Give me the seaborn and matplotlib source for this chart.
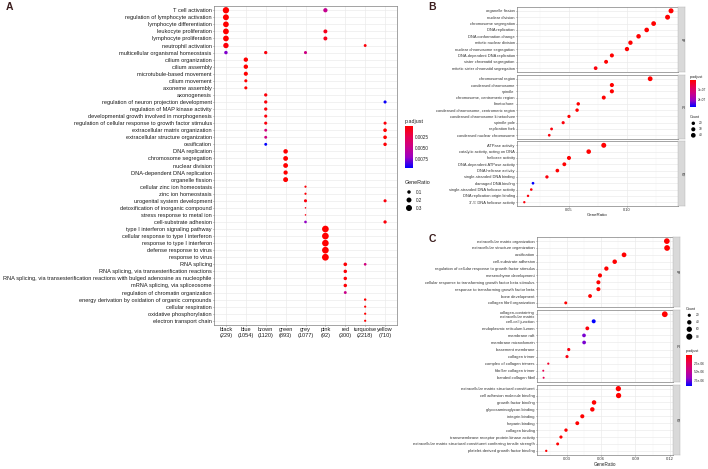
import numpy as np
import pandas as pd
import matplotlib
matplotlib.use("Agg")
import matplotlib as mpl
import matplotlib.pyplot as plt
import seaborn as sns
from matplotlib.colors import LinearSegmentedColormap, Normalize

# ======================= DATA =======================
# ---- Panel A (compareCluster dot plot) ----
a_clusters = ['black', 'blue', 'brown', 'green', 'grey', 'pink', 'red', 'turquoise', 'yellow']
a_cluster_sizes = [229, 1054, 1120, 893, 1077, 92, 300, 2218, 710]
a_terms = [
    'T cell activation',
    'regulation of lymphocyte activation',
    'lymphocyte differentiation',
    'leukocyte proliferation',
    'lymphocyte proliferation',
    'neutrophil activation',
    'multicellular organismal homeostasis',
    'cilium organization',
    'cilium assembly',
    'microtubule-based movement',
    'cilium movement',
    'axoneme assembly',
    'axonogenesis',
    'regulation of neuron projection development',
    'regulation of MAP kinase activity',
    'developmental growth involved in morphogenesis',
    'regulation of cellular response to growth factor stimulus',
    'extracellular matrix organization',
    'extracellular structure organization',
    'ossification',
    'DNA replication',
    'chromosome segregation',
    'nuclear division',
    'DNA-dependent DNA replication',
    'organelle fission',
    'cellular zinc ion homeostasis',
    'zinc ion homeostasis',
    'urogenital system development',
    'detoxification of inorganic compound',
    'stress response to metal ion',
    'cell-substrate adhesion',
    'type I interferon signaling pathway',
    'cellular response to type I interferon',
    'response to type I interferon',
    'defense response to virus',
    'response to virus',
    'RNA splicing',
    'RNA splicing, via transesterification reactions',
    'RNA splicing, via transesterification reactions with bulged adenosine as nucleophile',
    'mRNA splicing, via spliceosome',
    'regulation of chromatin organization',
    'energy derivation by oxidation of organic compounds',
    'cellular respiration',
    'oxidative phosphorylation',
    'electron transport chain',
]

a_cluster = (['black'] * 7 + ['blue'] * 5 + ['brown'] * 9 + ['green'] * 5 + ['grey'] * 7
             + ['pink'] * 8 + ['red'] * 5 + ['turquoise'] * 6 + ['yellow'] * 7)
a_term = [
    # black
    'T cell activation', 'regulation of lymphocyte activation', 'lymphocyte differentiation',
    'leukocyte proliferation', 'lymphocyte proliferation', 'neutrophil activation',
    'multicellular organismal homeostasis',
    # blue
    'cilium organization', 'cilium assembly', 'microtubule-based movement', 'cilium movement',
    'axoneme assembly',
    # brown
    'multicellular organismal homeostasis', 'axonogenesis', 'regulation of neuron projection development',
    'regulation of MAP kinase activity', 'developmental growth involved in morphogenesis',
    'regulation of cellular response to growth factor stimulus', 'extracellular matrix organization',
    'extracellular structure organization', 'ossification',
    # green
    'DNA replication', 'chromosome segregation', 'nuclear division', 'DNA-dependent DNA replication',
    'organelle fission',
    # grey
    'multicellular organismal homeostasis', 'cellular zinc ion homeostasis', 'zinc ion homeostasis',
    'urogenital system development', 'detoxification of inorganic compound',
    'stress response to metal ion', 'cell-substrate adhesion',
    # pink
    'T cell activation', 'leukocyte proliferation', 'lymphocyte proliferation',
    'type I interferon signaling pathway', 'cellular response to type I interferon',
    'response to type I interferon', 'defense response to virus', 'response to virus',
    # red
    'RNA splicing', 'RNA splicing, via transesterification reactions',
    'RNA splicing, via transesterification reactions with bulged adenosine as nucleophile',
    'mRNA splicing, via spliceosome', 'regulation of chromatin organization',
    # turquoise
    'neutrophil activation', 'RNA splicing', 'energy derivation by oxidation of organic compounds',
    'cellular respiration', 'oxidative phosphorylation', 'electron transport chain',
    # yellow
    'regulation of neuron projection development',
    'regulation of cellular response to growth factor stimulus', 'extracellular matrix organization',
    'extracellular structure organization', 'ossification', 'urogenital system development',
    'cell-substrate adhesion',
]
a_ratio = [
    0.33, 0.29, 0.27, 0.28, 0.27, 0.24, 0.10,
    0.16, 0.16, 0.14, 0.08, 0.08,
    0.09, 0.09, 0.09, 0.09, 0.08, 0.08, 0.07, 0.07, 0.07,
    0.17, 0.19, 0.19, 0.15, 0.20,
    0.08, 0.04, 0.04, 0.08, 0.02, 0.02, 0.06,
    0.15, 0.13, 0.13, 0.37, 0.37, 0.36, 0.37, 0.38,
    0.11, 0.10, 0.10, 0.10, 0.07,
    0.07, 0.06, 0.05, 0.04, 0.04, 0.04,
    0.08, 0.08, 0.11, 0.11, 0.10, 0.08, 0.09,
]
a_padj = [
    2e-5, 2e-5, 3e-5, 2e-5, 2e-5, 3e-4, 0.0075,
    1e-6, 1e-6, 2e-6, 3e-5, 4e-5,
    4e-4, 3e-4, 3e-4, 3e-4, 4e-4, 4e-4, 0.0042, 0.0044, 0.0095,
    1e-8, 1e-8, 1e-8, 1e-8, 1e-8,
    0.0045, 2e-4, 2e-4, 4e-4, 5e-4, 5e-4, 0.0072,
    0.0050, 8e-4, 8e-4, 1e-9, 1e-9, 1e-9, 1e-9, 1e-9,
    2e-4, 2e-4, 2e-4, 2e-4, 0.0048,
    3e-4, 0.0043, 5e-6, 5e-6, 5e-6, 5e-6,
    0.0093, 3e-4, 1e-5, 1e-5, 2e-4, 4e-4, 3e-4,
]

# ---- Panel B (GO enrichment, three ontologies) ----
b_bp_terms = ['organelle fission', 'nuclear division', 'chromosome segregation', 'DNA replication',
              'DNA conformation change', 'mitotic nuclear division', 'nuclear chromosome segregation',
              'DNA-dependent DNA replication', 'sister chromatid segregation',
              'mitotic sister chromatid segregation']
b_bp_ratio = [0.138, 0.135, 0.123, 0.117, 0.110, 0.103, 0.100, 0.087, 0.082, 0.073]
b_bp_count = [46, 45, 41, 39, 37, 34, 33, 29, 27, 24]
b_bp_padj = [1e-12, 1e-12, 1e-11, 1e-11, 1e-10, 1e-10, 1e-10, 1e-9, 1e-9, 1e-8]

b_cc_terms = ['chromosomal region', 'condensed chromosome', 'spindle', 'chromosome, centromeric region',
              'kinetochore', 'condensed chromosome, centromeric region', 'condensed chromosome kinetochore',
              'spindle pole', 'replication fork', 'condensed nuclear chromosome']
b_cc_ratio = [0.120, 0.087, 0.087, 0.080, 0.058, 0.057, 0.050, 0.045, 0.035, 0.033]
b_cc_count = [42, 30, 30, 28, 20, 20, 17, 16, 12, 11]
b_cc_padj = [1e-12, 1e-10, 1e-10, 1e-10, 1e-9, 1e-9, 1e-9, 1e-8, 1e-8, 1e-8]

b_mf_terms = ['ATPase activity', 'catalytic activity, acting on DNA', 'helicase activity',
              'DNA-dependent ATPase activity', 'DNA helicase activity', 'single-stranded DNA binding',
              'damaged DNA binding', 'single-stranded DNA helicase activity',
              'DNA replication origin binding', "3'-5' DNA helicase activity"]
b_mf_ratio = [0.080, 0.067, 0.050, 0.046, 0.040, 0.031, 0.019, 0.0175, 0.0147, 0.0115]
b_mf_count = [46, 38, 29, 26, 23, 18, 11, 10, 8, 7]
b_mf_padj = [1e-10, 1e-10, 1e-9, 1e-9, 1e-9, 1e-8, 2.8e-7, 1e-8, 1e-8, 1e-8]

# ---- Panel C (GO enrichment, three ontologies) ----
c_bp_terms = ['extracellular matrix organization', 'extracellular structure organization', 'ossification',
              'cell-substrate adhesion', 'regulation of cellular response to growth factor stimulus',
              'mesenchyme development', 'cellular response to transforming growth factor beta stimulus',
              'response to transforming growth factor beta', 'bone development',
              'collagen fibril organization']
c_bp_ratio = [0.1175, 0.1177, 0.080, 0.0718, 0.0645, 0.0589, 0.0575, 0.0575, 0.0502, 0.0289]
c_bp_count = [70, 71, 48, 43, 39, 35, 34, 34, 30, 17]
c_bp_padj = [1e-20, 1e-20, 1e-12, 1e-11, 1e-10, 1e-10, 1e-10, 1e-10, 1e-9, 1e-8]

c_cc_terms = ['collagen-containing\nextracellular matrix', 'cell-cell junction', 'endoplasmic reticulum lumen',
              'membrane raft', 'membrane microdomain', 'basement membrane', 'collagen trimer',
              'complex of collagen trimers', 'fibrillar collagen trimer', 'banded collagen fibril']
c_cc_ratio = [0.1157, 0.0534, 0.0478, 0.0449, 0.0450, 0.0315, 0.0300, 0.0136, 0.0092, 0.0095]
c_cc_count = [72, 33, 30, 28, 28, 20, 19, 8, 6, 6]
c_cc_padj = [1e-20, 9.2e-6, 3e-7, 7.4e-6, 7.4e-6, 5e-7, 5e-7, 1.2e-6, 2.4e-6, 2.4e-6]

c_mf_terms = ['extracellular matrix structural constituent', 'cell adhesion molecule binding',
              'growth factor binding', 'glycosaminoglycan binding', 'integrin binding', 'heparin binding',
              'collagen binding', 'transmembrane receptor protein kinase activity',
              'extracellular matrix structural constituent conferring tensile strength',
              'platelet-derived growth factor binding']
c_mf_ratio = [0.0750, 0.0752, 0.0537, 0.0522, 0.0434, 0.0390, 0.0291, 0.0247, 0.0218, 0.0118]
c_mf_count = [60, 60, 43, 42, 35, 31, 23, 20, 17, 9]
c_mf_padj = [1e-15, 1e-15, 1e-10, 1e-10, 1e-9, 1e-9, 1e-8, 1e-8, 1e-8, 1e-7]

# ======================= STYLE =======================
sns.set_theme(style="white")
plt.rcParams['font.family'] = ['Liberation Sans', 'DejaVu Sans']

W, H = 708, 469
fig = plt.figure(figsize=(W / 100, H / 100), dpi=100)
fig.patch.set_facecolor('white')

cmap = LinearSegmentedColormap.from_list(
    'padj', ['#FF0000', '#E8004F', '#CA0089', '#9A00C3', '#0000FF'])

LETTER_COLOR = '#3c1e1e'
BORDER = '#7F7F7F'
GRID = '#EBEBEB'


def add_ax(x0, y0, x1, y1):
    return fig.add_axes([x0 / W, 1 - y1 / H, (x1 - x0) / W, (y1 - y0) / H])


def style_panel(ax, label_size, label_color):
    for s in ax.spines.values():
        s.set_color(BORDER)
        s.set_linewidth(0.5)
    ax.set_axisbelow(True)
    ax.grid(True, which='major', color=GRID, linewidth=0.5)
    ax.tick_params(axis='both', which='major', length=1.0, width=0.4, color='#555555',
                   labelsize=label_size, labelcolor=label_color, pad=0.6,
                   left=True, bottom=True)
    ax.tick_params(axis='both', which='minor', length=0)
    ax.set_xlabel('')
    ax.set_ylabel('')


# ======================= PANEL A =======================
A_VMAX = 0.0095
A_SIZE_NORM = (0.0, 0.4)
A_SIZES = (0.0, 25.0)


def a_size(v):
    return A_SIZES[0] + (v - A_SIZE_NORM[0]) / (A_SIZE_NORM[1] - A_SIZE_NORM[0]) * (A_SIZES[1] - A_SIZES[0])


dfA = pd.DataFrame({'cluster': a_cluster, 'term': a_term, 'GeneRatio': a_ratio, 'p.adjust': a_padj})
dfA['xi'] = dfA['cluster'].map({c: i for i, c in enumerate(a_clusters)})
dfA['yi'] = dfA['term'].map({t: i for i, t in enumerate(a_terms)})

axA = add_ax(214, 6, 397, 325)
sns.scatterplot(data=dfA, x='xi', y='yi', hue='p.adjust', palette=cmap, hue_norm=(0, A_VMAX),
                size='GeneRatio', sizes=A_SIZES, size_norm=A_SIZE_NORM, linewidth=0,
                edgecolor='none', legend=False, ax=axA, zorder=3)
axA.set_xlim(-0.6, len(a_clusters) - 0.4)
axA.set_ylim(len(a_terms) - 0.4, -0.6)
axA.set_xticks(range(len(a_clusters)))
axA.set_xticklabels([f'{c}\n({n})' for c, n in zip(a_clusters, a_cluster_sizes)], linespacing=1.1)
axA.set_yticks(range(len(a_terms)))
axA.set_yticklabels(a_terms)
style_panel(axA, 4.1, '#1a1a1a')

# colorbar A
caxA = add_ax(405, 126, 413, 168)
cbA = fig.colorbar(mpl.cm.ScalarMappable(norm=Normalize(0, A_VMAX), cmap=cmap), cax=caxA)
caxA.invert_yaxis()
cbA.outline.set_visible(False)
cbA.set_ticks([0.0025, 0.005, 0.0075])
cbA.set_ticklabels(['0.0025', '0.0050', '0.0075'])
caxA.tick_params(labelsize=3.3, length=0, pad=1.5, labelcolor='#222222')


# ======================= FACET PANELS =======================
def draw_facets(facets, x0, x1, strip_w, xlim, major, major_labels, minor,
                size_norm, sizes, vmax, tick_fs, label_fs):
    n_f = len(facets)
    for i, (lab, terms, ratio, count, padj, top, bot) in enumerate(facets):
        ax = add_ax(x0, top, x1, bot)
        df = pd.DataFrame({'term': terms, 'GeneRatio': ratio, 'Count': count, 'p.adjust': padj})
        df['yi'] = np.arange(len(terms))
        sns.scatterplot(data=df, x='GeneRatio', y='yi', hue='p.adjust', palette=cmap,
                        hue_norm=(0, vmax), size='Count', sizes=sizes, size_norm=size_norm,
                        linewidth=0, edgecolor='none', legend=False, ax=ax, zorder=3)
        ax.set_xlim(*xlim)
        ax.set_ylim(len(terms) - 0.4, -0.6)
        ax.set_yticks(df['yi'])
        ax.set_yticklabels(terms, linespacing=0.95)
        ax.set_xticks(major)
        ax.set_xticks(minor, minor=True)
        style_panel(ax, tick_fs, '#333333')
        ax.grid(True, which='minor', axis='x', color='#F4F4F4', linewidth=0.3)
        if i < n_f - 1:
            ax.set_xticklabels([])
            ax.tick_params(axis='x', which='major', length=0)
        else:
            ax.set_xticklabels(major_labels)
            ax.set_xlabel('GeneRatio', fontsize=label_fs, labelpad=0.8, color='#222222')
        sax = add_ax(x1, top, x1 + strip_w, bot)
        sax.set_facecolor('#D9D9D9')
        sax.set_xticks([])
        sax.set_yticks([])
        for s in sax.spines.values():
            s.set_color('#B0B0B0')
            s.set_linewidth(0.3)
        sax.text(0.5, 0.5, lab, rotation=-90, ha='center', va='center', fontsize=2.2,
                 color='#1a1a1a', transform=sax.transAxes)


# Panel B
B_VMAX = 2.8e-7
B_SIZE_NORM = (0, 50)
B_SIZES = (1.0, 14.0)
draw_facets(
    [('BP', b_bp_terms, b_bp_ratio, b_bp_count, b_bp_padj, 7, 72),
     ('CC', b_cc_terms, b_cc_ratio, b_cc_count, b_cc_padj, 75, 139),
     ('MF', b_mf_terms, b_mf_ratio, b_mf_count, b_mf_padj, 141.5, 206)],
    517, 678, 7, (0.0052, 0.144), [0.05, 0.10], ['0.05', '0.10'], [0.025, 0.075, 0.125],
    B_SIZE_NORM, B_SIZES, B_VMAX, 2.9, 3.2)

# Panel C
C_VMAX = 9.2e-6
C_SIZE_NORM = (0, 80)
C_SIZES = (0.7, 19.0)
draw_facets(
    [('BP', c_bp_terms, c_bp_ratio, c_bp_count, c_bp_padj, 237, 307),
     ('CC', c_cc_terms, c_cc_ratio, c_cc_count, c_cc_padj, 310, 382),
     ('MF', c_mf_terms, c_mf_ratio, c_mf_count, c_mf_padj, 384.5, 455)],
    537, 673, 7, (0.0037, 0.1229), [0.03, 0.06, 0.09, 0.12], ['0.03', '0.06', '0.09', '0.12'],
    [0.015, 0.045, 0.075, 0.105], C_SIZE_NORM, C_SIZES, C_VMAX, 3.0, 3.3)


def size_from(v, norm, sizes):
    return sizes[0] + (v - norm[0]) / (norm[1] - norm[0]) * (sizes[1] - sizes[0])


# colorbar B
caxB = add_ax(690, 80, 696, 107)
cbB = fig.colorbar(mpl.cm.ScalarMappable(norm=Normalize(0, B_VMAX), cmap=cmap), cax=caxB)
caxB.invert_yaxis()
cbB.outline.set_visible(False)
cbB.set_ticks([1e-7, 2e-7])
cbB.set_ticklabels(['1e-07', '2e-07'])
caxB.tick_params(labelsize=2.3, length=0, pad=1.0, labelcolor='#222222')

# colorbar C
caxC = add_ax(686, 355, 692, 386)
cbC = fig.colorbar(mpl.cm.ScalarMappable(norm=Normalize(0, C_VMAX), cmap=cmap), cax=caxC)
caxC.invert_yaxis()
cbC.outline.set_visible(False)
cbC.set_ticks([2.5e-6, 5.0e-6, 7.5e-6])
cbC.set_ticklabels(['2.5e-06', '5.0e-06', '7.5e-06'])
caxC.tick_params(labelsize=2.3, length=0, pad=1.0, labelcolor='#222222')

# ======================= OVERLAY (letters, legend keys) =======================
ov = fig.add_axes([0, 0, 1, 1])
ov.set_xlim(0, W)
ov.set_ylim(H, 0)
ov.axis('off')

ov.text(9, 7.5, 'A', fontsize=7.5, fontweight='bold', ha='center', va='center', color=LETTER_COLOR)
ov.text(432, 7.5, 'B', fontsize=7.5, fontweight='bold', ha='center', va='center', color=LETTER_COLOR)
ov.text(432, 238.5, 'C', fontsize=7.5, fontweight='bold', ha='center', va='center', color=LETTER_COLOR)

# Legend A
ov.text(405, 121.5, 'p.adjust', fontsize=3.9, ha='left', va='center', color='#222222')
ov.text(405, 182, 'GeneRatio', fontsize=3.9, ha='left', va='center', color='#222222')
a_leg = [0.1, 0.2, 0.3]
a_leg_y = [192, 200, 208]
ov.scatter([409] * 3, a_leg_y, s=[a_size(v) for v in a_leg], c='black', linewidths=0)
for v, y in zip(a_leg, a_leg_y):
    ov.text(416, y, f'{v:.1f}', fontsize=3.3, ha='left', va='center', color='#222222')

# Legend B
ov.text(690, 77, 'p.adjust', fontsize=2.7, ha='left', va='center', color='#222222')
ov.text(690, 117, 'Count', fontsize=2.7, ha='left', va='center', color='#222222')
b_leg = [20, 30, 40]
b_leg_y = [123.3, 129.3, 135.3]
ov.scatter([693.3] * 3, b_leg_y, s=[size_from(v, B_SIZE_NORM, B_SIZES) for v in b_leg], c='black', linewidths=0)
for v, y in zip(b_leg, b_leg_y):
    ov.text(699, y, str(v), fontsize=2.3, ha='left', va='center', color='#222222')

# Legend C
ov.text(686, 309, 'Count', fontsize=2.7, ha='left', va='center', color='#222222')
c_leg = [20, 40, 60, 80]
c_leg_y = [315.3, 322.3, 329.3, 336.7]
ov.scatter([689.3] * 4, c_leg_y, s=[size_from(v, C_SIZE_NORM, C_SIZES) for v in c_leg], c='black', linewidths=0)
for v, y in zip(c_leg, c_leg_y):
    ov.text(696, y, str(v), fontsize=2.3, ha='left', va='center', color='#222222')
ov.text(686, 351, 'p.adjust', fontsize=2.7, ha='left', va='center', color='#222222')

fig.savefig('out.png', dpi=100, facecolor='white')
